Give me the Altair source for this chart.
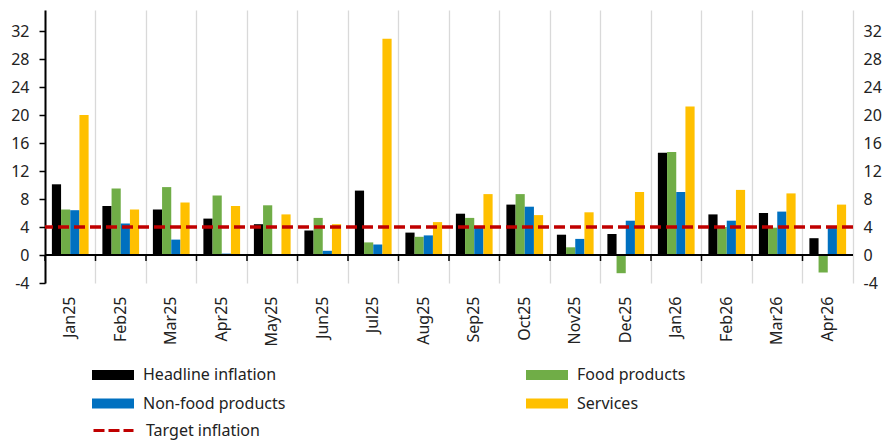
import altair as alt
import pandas as pd

months = ["Jan25", "Feb25", "Mar25", "Apr25", "May25", "Jun25", "Jul25", "Aug25",
          "Sep25", "Oct25", "Nov25", "Dec25", "Jan26", "Feb26", "Mar26", "Apr26"]
headline = [10.1, 7.0, 6.5, 5.2, 4.4, 3.5, 9.2, 3.2, 5.9, 7.2, 2.9, 3.0, 14.6, 5.8, 6.0, 2.4]
food = [6.5, 9.5, 9.7, 8.5, 7.1, 5.3, 1.8, 2.6, 5.3, 8.7, 1.1, -2.6, 14.7, 4.0, 3.9, -2.5]
nonfood = [6.4, 4.5, 2.2, 0.2, 0.0, 0.6, 1.5, 2.8, 4.0, 6.9, 2.3, 4.9, 9.0, 4.9, 6.2, 4.1]
services = [20.0, 6.5, 7.5, 7.0, 5.8, 4.4, 30.9, 4.7, 8.7, 5.7, 6.1, 9.0, 21.2, 9.3, 8.8, 7.2]

series_names = ["Headline inflation", "Food products", "Non-food products", "Services"]
series_colors = ["#000000", "#70ad47", "#0070c0", "#ffc000"]
target_name = "Target inflation"
target_value = 4
target_color = "#c00000"
y_ticks = [-4, 0, 4, 8, 12, 16, 20, 24, 28, 32]

rows = []
for name, vals in zip(series_names, [headline, food, nonfood, services]):
    for m, v in zip(months, vals):
        rows.append({"month": m, "series": name, "value": v})
df = pd.DataFrame(rows)
target_df = pd.DataFrame({"name": [target_name], "target": [target_value]})
months_df = pd.DataFrame({"month": months})

FONT = "Noto Sans"
TXT = "#222222"
W, H = 808, 273

x_scale = alt.Scale(domain=months, paddingInner=0, paddingOuter=0)
y_scale = alt.Scale(domain=[-4, 35], nice=False, zero=False)

bars = alt.Chart(df).mark_bar(strokeWidth=0).encode(
    x=alt.X("month:N", sort=months, scale=x_scale,
            axis=alt.Axis(title=None, labelAngle=-90, domain=False, ticks=False,
                          grid=True, bandPosition=0, gridColor="#d9d9d9", gridWidth=1.3,
                          labelPadding=13, labelFontSize=16, labelFont=FONT,
                          labelColor=TXT)),
    xOffset=alt.XOffset("series:N", sort=series_names,
                        scale=alt.Scale(domain=series_names, paddingInner=0, paddingOuter=0.75)),
    y=alt.Y("value:Q", scale=y_scale,
            axis=alt.Axis(title=None, orient="left", values=y_ticks, grid=False,
                          labelExpr="'' + datum.value",
                          domainColor="#000000", domainWidth=2, tickColor="#000000",
                          tickWidth=1.5, tickSize=6, labelPadding=10, labelFontSize=16,
                          labelFont=FONT, labelColor=TXT)),
    fill=alt.Fill("series:N", sort=series_names,
                  scale=alt.Scale(domain=series_names, range=series_colors),
                  legend=alt.Legend(title=None, orient="none", legendX=47, legendY=355,
                                    direction="horizontal", columns=2, columnPadding=240,
                                    rowPadding=10.5,
                                    symbolType="M-1,-0.5H3.2V0.5H-1Z", symbolSize=400,
                                    symbolStrokeWidth=0, labelOffset=31, labelFontSize=16,
                                    labelFont=FONT, labelColor=TXT, padding=0, labelLimit=400)),
)

baseline = alt.Chart(target_df).mark_rule(color="#000000", strokeWidth=2).encode(
    y=alt.Y(datum=0, scale=y_scale, axis=None),
)

ticks = alt.Chart(months_df).mark_rule(color="#000000", strokeWidth=1.5).encode(
    x=alt.X("month:N", sort=months, bandPosition=0),
    y=alt.Y(datum=0, scale=y_scale, axis=None),
    y2=alt.Y2(datum=-0.86),
)

target = alt.Chart(target_df).mark_rule(strokeDash=[11, 5], strokeWidth=3.5).encode(
    y=alt.Y("target:Q", scale=y_scale,
            axis=alt.Axis(title=None, orient="right", values=y_ticks, grid=False,
                          labelExpr="'' + datum.value",
                          domainColor="#d9d9d9", domainWidth=1.3, ticks=False,
                          labelPadding=10, labelFontSize=16, labelFont=FONT,
                          labelColor=TXT)),
    stroke=alt.Stroke("name:N", scale=alt.Scale(domain=[target_name], range=[target_color]),
                      legend=alt.Legend(title=None, orient="none", legendX=47, legendY=409,
                                        symbolType="M-1,0H3", symbolSize=400,
                                        symbolStrokeWidth=3, symbolDash=[11, 4],
                                        labelOffset=31, labelFontSize=16, labelFont=FONT,
                                        labelColor=TXT, padding=0, labelLimit=400)),
)

chart = alt.layer(bars, baseline, ticks, target).resolve_axis(y="independent").properties(
    width=W, height=H,
    padding={"left": 37, "top": 2, "right": 29, "bottom": 158},
    autosize="none",
).configure_view(stroke="transparent")

chart.save("out.html", embed_options={"renderer": "svg", "actions": False})
